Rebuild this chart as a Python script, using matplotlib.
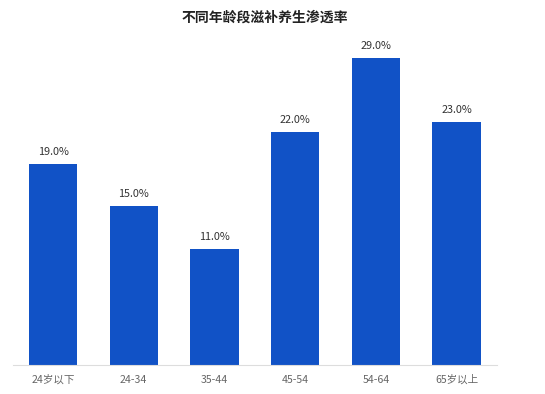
import matplotlib
matplotlib.use("Agg")
from matplotlib import pyplot as plt

plt.rcParams["font.family"] = ["Noto Sans CJK SC", "DejaVu Sans"]

# Chart data
categories = ["24岁以下", "24-34", "35-44", "45-54", "54-64", "65岁以上"]
rates = [19.0, 15.0, 11.0, 22.0, 29.0, 23.0]

fig = plt.figure(figsize=(5.45, 3.94), dpi=100)
ax = fig.add_axes([0.0233, 0.0736, 0.8887, 0.8061])

x = range(len(categories))
bars = ax.bar(x, rates, width=0.6, color="#1152c6")

for bar, val in zip(bars, rates):
    ax.annotate(f"{val:.1f}%", (bar.get_x() + bar.get_width() / 2, val),
                xytext=(0, 5), textcoords="offset points",
                ha="center", va="bottom", fontsize=7.8, color="#333333")

ax.set_xlim(-0.5, len(categories) - 0.5)
ax.set_ylim(0, 30)
ax.set_xticks(list(x))
ax.set_xticklabels(categories, fontsize=7.6, color="#666666")
ax.tick_params(axis="x", length=0, pad=7)
ax.set_yticks([])

for side in ["top", "right", "left"]:
    ax.spines[side].set_visible(False)
ax.spines["bottom"].set_color("#dddddd")

fig.text(0.485, 0.955, "不同年龄段滋补养生渗透率", ha="center", va="center",
         fontsize=10, fontweight="bold", color="#222222")

fig.savefig("out.png", dpi=100)
